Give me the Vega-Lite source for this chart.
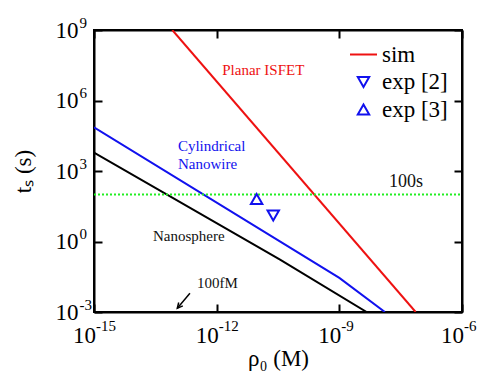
{
  "$schema": "https://vega.github.io/schema/vega-lite/v6.json",
  "width": 368,
  "height": 282,
  "autosize": "none",
  "padding": {"left": 94, "top": 30, "right": 22, "bottom": 65},
  "background": "white",
  "config": {
    "view": {"stroke": "black", "strokeWidth": 2},
    "font": "Liberation Serif",
    "axis": {
      "grid": false,
      "domainColor": "black",
      "domainWidth": 2,
      "tickColor": "black",
      "tickWidth": 2,
      "tickSize": -8,
      "labelFont": "Liberation Serif",
      "labelFontSize": 23,
      "labelColor": "black",
      "labelFlush": false,
      "labelOverlap": false,
      "titleFont": "Liberation Serif",
      "titleFontSize": 23,
      "titleFontWeight": "normal",
      "titleColor": "black"
    },
    "legend": {
      "orient": "none",
      "legendX": 255,
      "legendY": 10,
      "labelFont": "Liberation Serif",
      "labelFontSize": 23,
      "labelColor": "black",
      "symbolStrokeWidth": 2,
      "rowPadding": 3.5,
      "labelOffset": 4,
      "padding": 0
    }
  },
  "datasets": {
    "curves": [
      {"curve": "Planar ISFET", "rho": 8.22e-14, "t": 1e9},
      {"curve": "Planar ISFET", "rho": 7.35e-8, "t": 0.001},
      {"curve": "Cylindrical Nanowire", "rho": 1e-15, "t": 72440},
      {"curve": "Cylindrical Nanowire", "rho": 1e-9, "t": 0.0282},
      {"curve": "Cylindrical Nanowire", "rho": 1.3e-8, "t": 0.001},
      {"curve": "Nanosphere", "rho": 1e-15, "t": 6026},
      {"curve": "Nanosphere", "rho": 3.55e-11, "t": 0.17},
      {"curve": "Nanosphere", "rho": 4.65e-9, "t": 0.001}
    ],
    "threshold": [
      {"rho": 1e-15, "t": 100},
      {"rho": 1e-6, "t": 100}
    ],
    "exp": [
      {"series": "exp [2]", "rho": 2.42e-11, "t": 12.8},
      {"series": "exp [3]", "rho": 9.5e-12, "t": 64}
    ],
    "notes": [
      {"label": "Planar ISFET", "group": "Planar ISFET", "rho": 1.37e-12, "t": 1.99e7},
      {"label": "Cylindrical", "group": "Cylindrical Nanowire", "rho": 1.13e-13, "t": 11600},
      {"label": "Nanowire", "group": "Cylindrical Nanowire", "rho": 1.13e-13, "t": 1986},
      {"label": "Nanosphere", "group": "Nanosphere", "rho": 2.77e-14, "t": 1.71},
      {"label": "100fM", "group": "marker", "rho": 3.3e-13, "t": 0.0171},
      {"label": "100s", "group": "threshold", "rho": 1.63e-8, "t": 351}
    ],
    "arrow": [
      {"rho": 2.22e-13, "t": 0.00625, "rho2": 1.09e-13, "t2": 0.001435}
    ]
  },
  "layer": [
    {
      "data": {"name": "curves"},
      "mark": {"type": "line", "strokeWidth": 2, "clip": true},
      "encoding": {
        "x": {
          "field": "rho", "type": "quantitative",
          "scale": {"type": "log", "domain": [1e-15, 1e-6], "nice": false},
          "axis": {
            "orient": "bottom",
            "values": [1e-15, 1e-12, 1e-9, 1e-6],
            "labelExpr": "'10'",
            "labelFont": "Liberation Serif",
            "labelAlign": "right",
            "labelOffset": 1.5,
            "labelPadding": 20,
            "title": "ρ₀ (M)",
            "titleFont": "Liberation Serif",
            "titlePadding": 0
          }
        },
        "y": {
          "field": "t", "type": "quantitative",
          "scale": {"type": "log", "domain": [0.001, 1e9], "nice": false},
          "axis": {
            "orient": "left",
            "values": [0.001, 1, 1000, 1e6, 1e9],
            "labelExpr": "'10'",
            "labelFont": "Liberation Serif",
            "labelAlign": "right",
            "labelPadding": 24,
            "title": "tₛ (s)",
            "titleFont": "Liberation Serif",
            "titlePadding": 20
          }
        },
        "color": {
          "field": "curve", "type": "nominal",
          "scale": {"domain": ["Planar ISFET", "Cylindrical Nanowire", "Nanosphere"], "range": ["#ee1111", "#1111ee", "#000000"]},
          "legend": null
        }
      }
    },
    {
      "data": {"name": "threshold"},
      "mark": {"type": "line", "strokeWidth": 2, "strokeDash": [2, 2], "color": "#22ee22"},
      "encoding": {
        "x": {
          "field": "rho", "type": "quantitative",
          "axis": {"orient": "top", "values": [1e-15, 1e-12, 1e-9, 1e-6], "labels": false, "title": null}
        },
        "y": {
          "field": "t", "type": "quantitative",
          "axis": {"orient": "right", "values": [0.001, 1, 1000, 1e6, 1e9], "labels": false, "title": null}
        }
      }
    },
    {
      "data": {"name": "exp"},
      "mark": {"type": "point", "filled": false, "strokeWidth": 2, "opacity": 1},
      "encoding": {
        "x": {"field": "rho", "type": "quantitative", "axis": null},
        "y": {"field": "t", "type": "quantitative", "axis": null},
        "shape": {
          "field": "series", "type": "nominal",
          "scale": {"domain": ["sim", "exp [2]", "exp [3]"], "range": ["stroke", "triangle-down", "triangle-up"]},
          "legend": {"title": null, "labelFont": "Liberation Serif"}
        },
        "color": {
          "field": "series", "type": "nominal",
          "scale": {"domain": ["sim", "exp [2]", "exp [3]"], "range": ["#ee1111", "#1111ee", "#1111ee"]},
          "legend": {"title": null, "labelFont": "Liberation Serif"}
        },
        "size": {
          "field": "series", "type": "nominal",
          "scale": {"type": "ordinal", "domain": ["sim", "exp [2]", "exp [3]"], "range": [729, 130, 130]},
          "legend": {"title": null, "labelFont": "Liberation Serif"}
        }
      }
    },
    {
      "data": {"name": "notes"},
      "transform": [{"filter": "datum.group == 'Planar ISFET' || datum.group == 'Cylindrical Nanowire' || datum.group == 'Nanosphere' || datum.group == 'marker'"}],
      "mark": {"type": "text", "align": "left", "baseline": "middle", "fontSize": 15, "font": "Liberation Serif"},
      "encoding": {
        "x": {"field": "rho", "type": "quantitative", "axis": null},
        "y": {"field": "t", "type": "quantitative", "axis": null},
        "text": {"field": "label"},
        "color": {
          "field": "group", "type": "nominal",
          "scale": {"domain": ["Planar ISFET", "Cylindrical Nanowire", "Nanosphere", "marker"], "range": ["#ee1111", "#1111ee", "#111111", "#111111"]},
          "legend": null
        }
      }
    },
    {
      "data": {"name": "notes"},
      "transform": [{"filter": "datum.group == 'threshold'"}],
      "mark": {"type": "text", "align": "left", "baseline": "middle", "fontSize": 18, "font": "Liberation Serif", "color": "#111111"},
      "encoding": {
        "x": {"field": "rho", "type": "quantitative", "axis": null},
        "y": {"field": "t", "type": "quantitative", "axis": null},
        "text": {"field": "label"}
      }
    },
    {
      "data": {"name": "arrow"},
      "mark": {"type": "rule", "strokeWidth": 1.5, "color": "black"},
      "encoding": {
        "x": {
          "field": "rho", "type": "quantitative",
          "axis": {
            "orient": "bottom",
            "values": [1e-15, 1e-12, 1e-9, 1e-6],
            "labelExpr": "datum.value < 1e-13 ? '-15' : datum.value < 1e-10 ? '-12' : datum.value < 1e-7 ? '-9' : '-6'",
            "labelFont": "Liberation Serif",
            "labelFontSize": 15,
            "labelAlign": "left",
            "labelOffset": 1.5,
            "labelPadding": 14,
            "domain": false,
            "tickOpacity": 0,
            "title": null
          }
        },
        "y": {
          "field": "t", "type": "quantitative",
          "axis": {
            "orient": "left",
            "values": [0.001, 1, 1000, 1e6, 1e9],
            "labelExpr": "datum.value < 0.01 ? '-3' : datum.value < 10 ? '0' : datum.value < 1e4 ? '3' : datum.value < 1e7 ? '6' : '9'",
            "labelFont": "Liberation Serif",
            "labelFontSize": 15,
            "labelAlign": "left",
            "labelOffset": -8,
            "labelPadding": 23,
            "domain": false,
            "tickOpacity": 0,
            "title": null
          }
        },
        "x2": {"field": "rho2"},
        "y2": {"field": "t2"}
      }
    },
    {
      "data": {"name": "arrow"},
      "mark": {"type": "point", "shape": "M-0.6,1.2L0,0L0.6,1.2", "filled": false, "strokeWidth": 1.5, "color": "black", "size": 80, "angle": 220, "opacity": 1},
      "encoding": {
        "x": {"field": "rho2", "type": "quantitative", "axis": null},
        "y": {"field": "t2", "type": "quantitative", "axis": null}
      }
    }
  ],
  "resolve": {
    "axis": {"x": "independent", "y": "independent"},
    "scale": {"color": "independent", "shape": "independent", "size": "independent"}
  }
}
